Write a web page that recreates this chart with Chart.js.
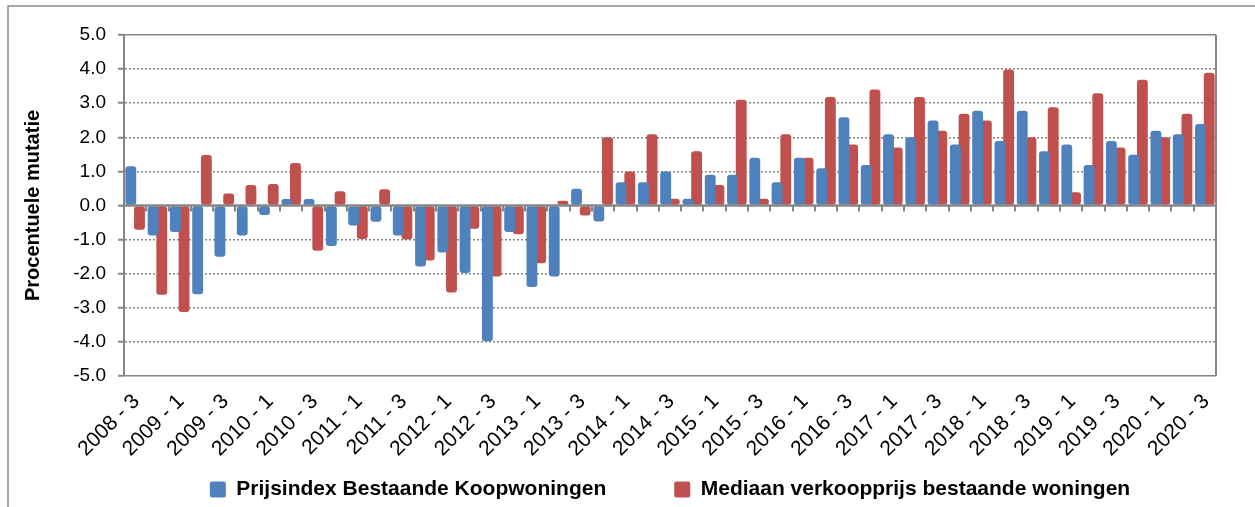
<!DOCTYPE html>
<html>
<head>
<meta charset="utf-8">
<script src="https://cdn.jsdelivr.net/npm/chart.js@4.4.0/dist/chart.umd.min.js"></script>
<style>
  html, body { margin: 0; padding: 0; background: #fff; }
</style>
</head>
<body>
<canvas id="myChart" width="1255" height="507"></canvas>
<script>
const kwartalen = [
    '2008 - 3', '2008 - 4',
    '2009 - 1', '2009 - 2', '2009 - 3', '2009 - 4',
    '2010 - 1', '2010 - 2', '2010 - 3', '2010 - 4',
    '2011 - 1', '2011 - 2', '2011 - 3', '2011 - 4',
    '2012 - 1', '2012 - 2', '2012 - 3', '2012 - 4',
    '2013 - 1', '2013 - 2', '2013 - 3', '2013 - 4',
    '2014 - 1', '2014 - 2', '2014 - 3', '2014 - 4',
    '2015 - 1', '2015 - 2', '2015 - 3', '2015 - 4',
    '2016 - 1', '2016 - 2', '2016 - 3', '2016 - 4',
    '2017 - 1', '2017 - 2', '2017 - 3', '2017 - 4',
    '2018 - 1', '2018 - 2', '2018 - 3', '2018 - 4',
    '2019 - 1', '2019 - 2', '2019 - 3', '2019 - 4',
    '2020 - 1', '2020 - 2', '2020 - 3'
];

const prijsindex = [
    1.15, -0.88,
    -0.78, -2.6, -1.5, -0.88,
    -0.28, 0.19, 0.19, -1.19,
    -0.59, -0.48, -0.88, -1.79,
    -1.38, -1.98, -3.98, -0.78,
    -2.39, -2.08, 0.49, -0.47,
    0.68, 0.68, 1.0, 0.2,
    0.9, 0.9, 1.4, 0.68,
    1.4, 1.09, 2.59, 1.19,
    2.09, 2.0, 2.49, 1.79,
    2.78, 1.89, 2.78, 1.59,
    1.79, 1.19, 1.89, 1.49,
    2.19, 2.09, 2.39
];

const mediaan = [
    -0.71, -2.62,
    -3.12, 1.48, 0.35, 0.6,
    0.63, 1.25, -1.33, 0.42,
    -0.98, 0.48, -1.0, -1.61,
    -2.55, -0.68, -2.08, -0.84,
    -1.69, 0.14, -0.29, 2.0,
    1.0, 2.09, 0.2, 1.59,
    0.6, 3.1, 0.2, 2.09,
    1.4, 3.18, 1.79, 3.4,
    1.7, 3.18, 2.19, 2.69,
    2.49, 3.99, 2.0, 2.88,
    0.39, 3.29, 1.7, 3.69,
    2.0, 2.69, 3.89
];

const grijs = '#868686';
Chart.defaults.font.family = "'Liberation Sans', Arial, sans-serif";
Chart.defaults.color = '#000';

// kader, nullijn met streepjes en rechterrand
const assen = {
    id: 'assen',
    beforeDraw(chart) {
        const ctx = chart.ctx;
        ctx.save();
        ctx.strokeStyle = '#8c8c8c';
        ctx.lineWidth = 1.5;
        ctx.strokeRect(8, 6, 1400, 700);
        ctx.restore();
    },
    afterDatasetsDraw(chart) {
        const {ctx, chartArea, scales: {x, y}} = chart;
        const y0 = y.getPixelForValue(0);
        const half = (x.getPixelForValue(1) - x.getPixelForValue(0)) / 2;
        ctx.save();
        ctx.strokeStyle = grijs;
        ctx.lineWidth = 2.5;
        ctx.beginPath();
        ctx.moveTo(chartArea.left, y0);
        ctx.lineTo(chartArea.right, y0);
        ctx.stroke();
        ctx.lineWidth = 2;
        ctx.beginPath();
        for (let i = 1; i < kwartalen.length; i++) {
            const px = Math.round(x.getPixelForValue(i) - half);
            ctx.moveTo(px, y0);
            ctx.lineTo(px, y0 + 6);
        }
        ctx.moveTo(chartArea.right, chartArea.top);
        ctx.lineTo(chartArea.right, chartArea.bottom);
        ctx.stroke();
        ctx.restore();
    }
};

const ctx = document.getElementById('myChart').getContext('2d');
const chart = new Chart(ctx, {
    type: 'bar',
    data: {
        labels: kwartalen,
        datasets: [
            {
                label: 'Prijsindex Bestaande Koopwoningen',
                data: prijsindex,
                backgroundColor: '#4f81bd',
                borderWidth: 0,
                borderRadius: 3,
                borderSkipped: false,
                categoryPercentage: 0.78,
                barPercentage: 1.25
            },
            {
                label: 'Mediaan verkoopprijs bestaande woningen',
                data: mediaan,
                backgroundColor: '#c0504d',
                borderWidth: 0,
                borderRadius: 3,
                borderSkipped: false,
                categoryPercentage: 0.78,
                barPercentage: 1.25
            }
        ]
    },
    options: {
        responsive: false,
        animation: false,
        layout: {padding: {left: 10, right: 39, top: 35, bottom: -3}},
        plugins: {
            legend: {
                position: 'bottom',
                fullSize: false,
                labels: {
                    font: {size: 21, weight: 'bold'},
                    color: '#000',
                    boxWidth: 16,
                    boxHeight: 16,
                    padding: 68,
                    useBorderRadius: true,
                    borderRadius: 2
                }
            },
            tooltip: {enabled: false}
        },
        scales: {
            x: {
                grid: {display: false, drawTicks: false},
                border: {display: false},
                ticks: {
                    autoSkip: false,
                    minRotation: 45,
                    maxRotation: 45,
                    mirror: true,
                    padding: -31,
                    labelOffset: 19,
                    font: {size: 21},
                    color: '#000',
                    callback: (v, i) => i % 2 === 0 ? kwartalen[i] : ''
                },
                afterFit: s => { s.height = 35; }
            },
            y: {
                min: -5,
                max: 5,
                ticks: {
                    stepSize: 1,
                    font: {size: 19},
                    color: '#000',
                    padding: 12,
                    callback: v => v.toFixed(1)
                },
                grid: {
                    color: c => c.tick && c.tick.value === 0 ? 'rgba(0,0,0,0)' : grijs,
                    lineWidth: 1.5,
                    tickColor: grijs,
                    tickWidth: 2,
                    tickLength: 6
                },
                border: {
                    color: grijs,
                    width: 2,
                    dash: c => c.tick && Math.abs(c.tick.value) === 5 ? [] : [2, 2]
                },
                title: {
                    display: true,
                    text: 'Procentuele mutatie',
                    font: {size: 20, weight: 'bold'},
                    color: '#000',
                    padding: {top: 11, bottom: 0}
                },
                afterFit: s => { s.width = 114; }
            }
        }
    },
    plugins: [assen]
});
</script>
</body>
</html>
